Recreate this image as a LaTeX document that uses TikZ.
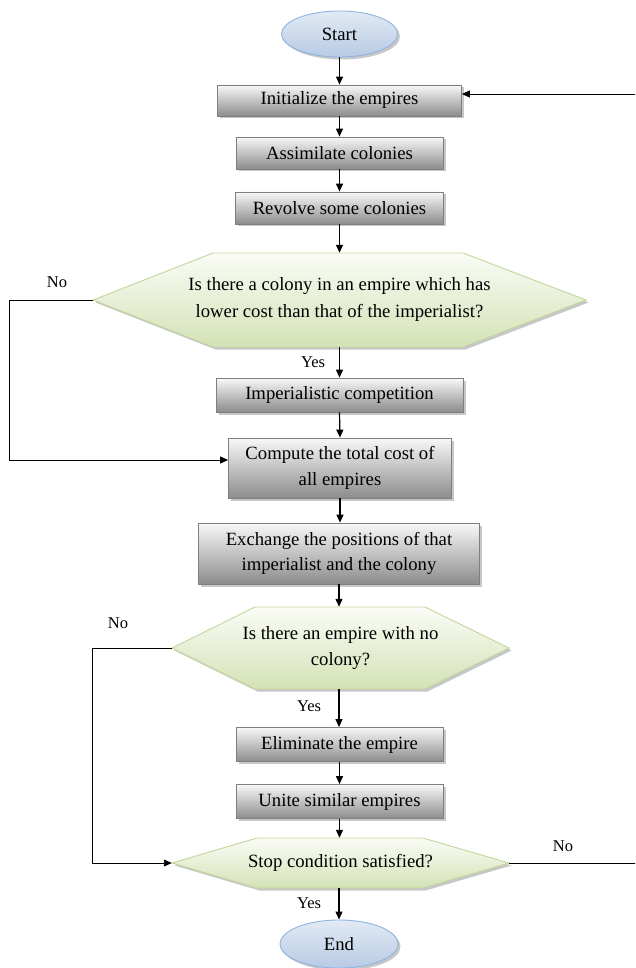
\documentclass[tikz,border=0pt]{standalone}
\usepackage{fontspec}
\setmainfont{Liberation Serif}
\usetikzlibrary{arrows.meta,shadows,calc,shapes.geometric}
\definecolor{boxborder}{HTML}{7F7F7F}
\definecolor{boxtop}{HTML}{F8F8F8}
\definecolor{boxbot}{HTML}{8C8C8C}
\definecolor{hexborder}{HTML}{C3D69B}
\definecolor{hextop}{HTML}{FAFCF6}
\definecolor{hexbot}{HTML}{D4E2B6}
\definecolor{ellborder}{HTML}{8EB4E3}
\definecolor{elltop}{HTML}{E2EAF4}
\definecolor{ellbot}{HTML}{B7CBE4}
\newcommand\mainfs{\fontsize{18.7}{25.5}\selectfont}
\newcommand\lblfs{\fontsize{16.5}{20}\selectfont}
\newcommand\hexpath[6]{%
  \path[hexstyle] (#1-#3,#2) -- (#1-#3+#5,#2-#4) -- (#1+#3-#6,#2-#4) -- (#1+#3,#2)
    -- (#1+#3-#6,#2+#4) -- (#1-#3+#5,#2+#4) -- cycle;}
\begin{document}
\begin{tikzpicture}[x=1pt,y=-1pt,
  shadowed/.style={drop shadow={shadow xshift=2.5pt,shadow yshift=-2.5pt,fill=black!22,opacity=1}},
  procbox/.style={draw=boxborder, line width=0.8pt, top color=boxtop, bottom color=boxbot,
    shadowed, inner sep=0pt, align=center, font=\mainfs},
  hexstyle/.style={draw=hexborder, line width=0.9pt, top color=hextop, bottom color=hexbot, shadowed},
  hexnode/.style={inner sep=0pt, align=center, font=\mainfs},
  term/.style={ellipse, draw=ellborder, line width=0.9pt, top color=elltop, bottom color=ellbot,
    shadowed, inner sep=0pt, font=\mainfs},
  lbl/.style={font=\lblfs, inner sep=0pt},
  flow/.style={line width=1.2pt, -{Triangle[length=8pt,width=7pt]}},
  loopline/.style={line width=0.9pt, -{Triangle[length=8pt,width=7pt]}}
]
\clip (0,0) rectangle (635,968);
\fill[white] (0,0) rectangle (635,968);

% terminals
\node[term, minimum width=116pt, minimum height=46pt] (start) at (339.5,34) {Start};
\node[term, minimum width=118pt, minimum height=48pt] (end) at (339,944) {End};

% process boxes
\node[procbox, minimum width=244pt, minimum height=31pt] (init) at (339.5,100.5) {Initialize the empires};
\node[procbox, minimum width=207pt, minimum height=32pt] (assim) at (339.5,153) {Assimilate colonies};
\node[procbox, minimum width=208pt, minimum height=32pt] (revolve) at (339.5,208) {Revolve some colonies};
\node[procbox, minimum width=247pt, minimum height=34pt] (imper) at (339.5,395) {Imperialistic competition};
\node[procbox, minimum width=223pt, minimum height=60pt] (compute) at (340,468) {Compute the total cost of\\all empires};
\node[procbox, minimum width=281pt, minimum height=61pt] (exch) at (339,553.5) {Exchange the positions of that\\imperialist and the colony};
\node[procbox, minimum width=207pt, minimum height=34pt] (elim) at (339.5,744.5) {Eliminate the empire};
\node[procbox, minimum width=207pt, minimum height=34pt] (unite) at (339.5,801.5) {Unite similar empires};

% decisions
\hexpath{339.5}{300}{246.5}{47}{120}{123}
\node[hexnode, minimum width=493pt, minimum height=94pt] (h1) at (339.5,300)
  {Is there a colony in an empire which has\\[1.5pt]lower cost than that of the imperialist?};
\hexpath{340.5}{648}{168.5}{41}{83}{84}
\node[hexnode, minimum width=337pt, minimum height=82pt] (h2) at (340.5,648)
  {Is there an empire with no\\colony?};
\hexpath{340.5}{863}{168.5}{25}{85}{86}
\node[hexnode, minimum width=337pt, minimum height=50pt] (h3) at (340.5,863)
  {Stop condition satisfied?};

% labels
\node[lbl] (no1) at (57,282) {No};
\node[lbl] (yes1) at (313,362) {Yes};
\node[lbl] (no2) at (118,623) {No};
\node[lbl] (yes2) at (309,706) {Yes};
\node[lbl] (no3) at (563,846) {No};
\node[lbl] (yes3) at (309,903) {Yes};

% main flow
\draw[flow] (start.south) -- (init.north);
\draw[flow] (init.south) -- (assim.north);
\draw[flow] (assim.south) -- (revolve.north);
\draw[flow] (revolve.south) -- (h1.north);
\draw[flow] (h1.south) -- (imper.north);
\draw[flow] (imper.south) -- (compute.north);
\draw[flow] (compute.south) -- (exch.north -| compute.south);
\draw[flow] (exch.south) -- (h2.north -| exch.south);
\draw[flow] (h2.south -| exch.south) -- (elim.north -| exch.south);
\draw[flow] (elim.south) -- (unite.north);
\draw[flow] (unite.south) -- (h3.north -| unite.south);
\draw[flow] (h3.south -| end.north) -- (end.north);

% loops
\coordinate (l1) at (9,300);
\coordinate (l2) at (92,648);
\coordinate (r1) at (645,863);
\draw[loopline] (h1.west) -- (l1) |- ([yshift=8pt]compute.west);
\draw[loopline] (h2.west) -- (l2) |- (h3.west);
\draw[loopline] (h3.east) -- (r1) |- ([yshift=6.5pt]init.east);
\end{tikzpicture}
\end{document}
